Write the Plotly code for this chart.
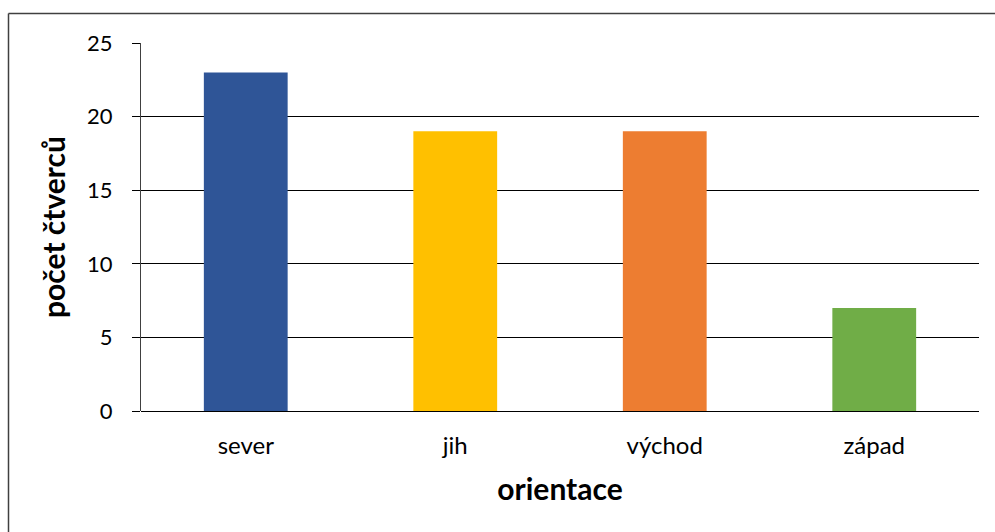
import plotly.graph_objects as go

categories = ["sever", "jih", "východ", "západ"]
values = [23, 19, 19, 7]
colors = ["#2F5597", "#FFC000", "#ED7D31", "#70AD47"]
y_ticks = [0, 5, 10, 15, 20, 25]

FONT = "Lato"

fig = go.Figure(go.Bar(x=categories, y=values, marker_color=colors,
                       marker_line_width=0, width=0.4))

W, H = 995, 532
L, R, T, B = 141, 16, 43, 121
pw, ph = W - L - R, H - T - B

fig.update_layout(
    width=W, height=H,
    margin=dict(l=L, r=R, t=T, b=B, pad=0),
    paper_bgcolor="white", plot_bgcolor="white",
    font=dict(family=FONT, color="black", size=22),
    showlegend=False,
    bargap=0.6,
)
fig.update_xaxes(
    showgrid=False, ticks="", showline=False,
    tickfont=dict(size=24, family=FONT),
    ticklabelstandoff=18,
    title=dict(text="<b>orientace</b>", font=dict(size=30, family=FONT), standoff=20),
)
fig.update_yaxes(
    range=[0, 25], tickvals=y_ticks, showgrid=True, gridcolor="black", gridwidth=1,
    zeroline=True, zerolinecolor="black", zerolinewidth=1,
    showline=True, linecolor="#404040", linewidth=1,
    ticks="outside", ticklen=8, tickcolor="black",
    tickfont=dict(size=22, family=FONT),
    ticklabelstandoff=15,
    title=dict(text="<b>počet čtverců</b>", font=dict(size=30, family=FONT), standoff=12),
)

bx = (8.5 - L) / pw
by = 1 + (T - 13.5) / ph
fig.add_shape(type="line", xref="paper", yref="paper", x0=bx, x1=1.1, y0=by, y1=by,
              line=dict(color="#404040", width=1.5))
fig.add_shape(type="line", xref="paper", yref="paper", x0=bx, x1=bx, y0=by, y1=-0.5,
              line=dict(color="#404040", width=1.5))

fig.write_html("out.html")
